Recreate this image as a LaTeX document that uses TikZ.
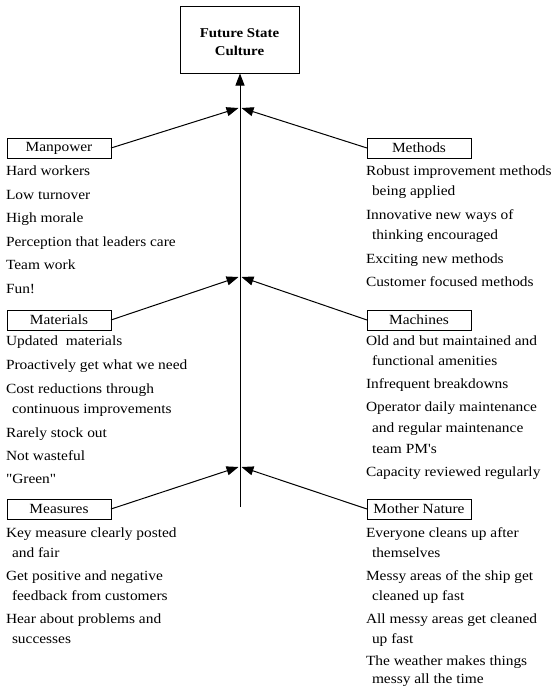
\documentclass[tikz,border=0pt]{standalone}
\usepackage{fontspec}
\setmainfont{Liberation Serif}[FakeStretch=1.1, Ligatures=TeXOff]
\usetikzlibrary{arrows.meta}

% an item whose text runs onto a second (or third) indented line
\newcommand\wraptwo[3][20.5pt]{\vtop{\baselineskip=#1\hbox{#2}\hbox{\hspace*{6pt}#3}}}
\newcommand\wrapthree[3]{\vtop{\baselineskip=21pt\hbox{#1}\hbox{\hspace*{6pt}#2}\hbox{\hspace*{6pt}#3}}}

\begin{document}
\begin{tikzpicture}[x=1pt,y=-1pt,
  every node/.style={inner sep=0pt, outer sep=0pt},
  goal/.style={draw, line width=1pt, minimum width=119pt, minimum height=67pt,
    align=center, font=\fontsize{13.5}{18}\selectfont\bfseries},
  cat/.style={draw, line width=1pt, minimum width=104pt, minimum height=20pt,
    font=\fontsize{14}{17}\selectfont},
  item/.style={anchor=base west, font=\fontsize{14}{17}\selectfont},
  feed/.style={line width=1pt, -{Triangle[length=12pt,width=9pt]}},
]
\fill[white] (0,0) rectangle (558,688);
\useasboundingbox (0,0) rectangle (558,688);

% goal
\node[goal] (goal) at (239.5,40) {\rule{0pt}{13pt}Future State\\Culture};

% junction points on the spine
\coordinate (base) at (240,507);
\coordinate (j1l) at (238.5,108);
\coordinate (j1r) at (241.5,108);
\coordinate (j2l) at (238.5,277);
\coordinate (j2r) at (241.5,277);
\coordinate (j3l) at (238.5,467);
\coordinate (j3r) at (241.5,467);

% category boxes
\node[cat] (mp) at (59,148) {Manpower};
\node[cat] (mt) at (59,320) {Materials};
\node[cat] (ms) at (59,509) {Measures};
\node[cat] (me) at (419,148) {Methods};
\node[cat] (mc) at (419,320) {Machines};
\node[cat] (mn) at (419,509) {Mother Nature};

% connectors
\draw[feed] (base) -- (goal.south -| base);
\draw[feed] (mp.east) -- (j1l);
\draw[feed] (me.west) -- (j1r);
\draw[feed] (mt.east) -- (j2l);
\draw[feed] (mc.west) -- (j2r);
\draw[feed] (ms.east) -- (j3l);
\draw[feed] (mn.west) -- (j3r);

% Manpower
\node[item] (mp1) at (6,175) {Hard workers};
\node[item] (mp2) at (6,199) {Low turnover};
\node[item] (mp3) at (6,222.5) {High morale};
\node[item] (mp4) at (6,246) {Perception that leaders care};
\node[item] (mp5) at (6,269.5) {Team work};
\node[item] (mp6) at (6,293) {Fun!};

% Materials
\node[item] (mt1) at (6,345) {Updated\ \ materials};
\node[item] (mt2) at (6,369) {Proactively get what we need};
\node[item] (mt3) at (6,393) {\wraptwo{Cost reductions through}{continuous improvements}};
\node[item] (mt4) at (6,437) {Rarely stock out};
\node[item] (mt5) at (6,460) {Not wasteful};
\node[item] (mt6) at (6,483) {"Green"};

% Measures
\node[item] (ms1) at (6,537) {\wraptwo{Key measure clearly posted}{and fair}};
\node[item] (ms2) at (6,580) {\wraptwo{Get positive and negative}{feedback from customers}};
\node[item] (ms3) at (6,623) {\wraptwo{Hear about problems and}{successes}};

% Methods
\node[item] (me1) at (366,175) {\wraptwo{Robust improvement methods}{being applied}};
\node[item] (me2) at (366,219) {\wraptwo{Innovative new ways of}{thinking encouraged}};
\node[item] (me3) at (366,263) {Exciting new methods};
\node[item] (me4) at (366,286) {Customer focused methods};

% Machines
\node[item] (mc1) at (366,345) {\wraptwo{Old and but maintained and}{functional amenities}};
\node[item] (mc2) at (366,388) {Infrequent breakdowns};
\node[item] (mc3) at (366,411) {\wrapthree{Operator daily maintenance}{and regular maintenance}{team PM's}};
\node[item] (mc4) at (366,476) {Capacity reviewed regularly};

% Mother Nature
\node[item] (mn1) at (366,537) {\wraptwo{Everyone cleans up after}{themselves}};
\node[item] (mn2) at (366,580) {\wraptwo{Messy areas of the ship get}{cleaned up fast}};
\node[item] (mn3) at (366,623) {\wraptwo{All messy areas get cleaned}{up fast}};
\node[item] (mn4) at (366,665) {\wraptwo[18.5pt]{The weather makes things}{messy all the time}};
\end{tikzpicture}
\end{document}
